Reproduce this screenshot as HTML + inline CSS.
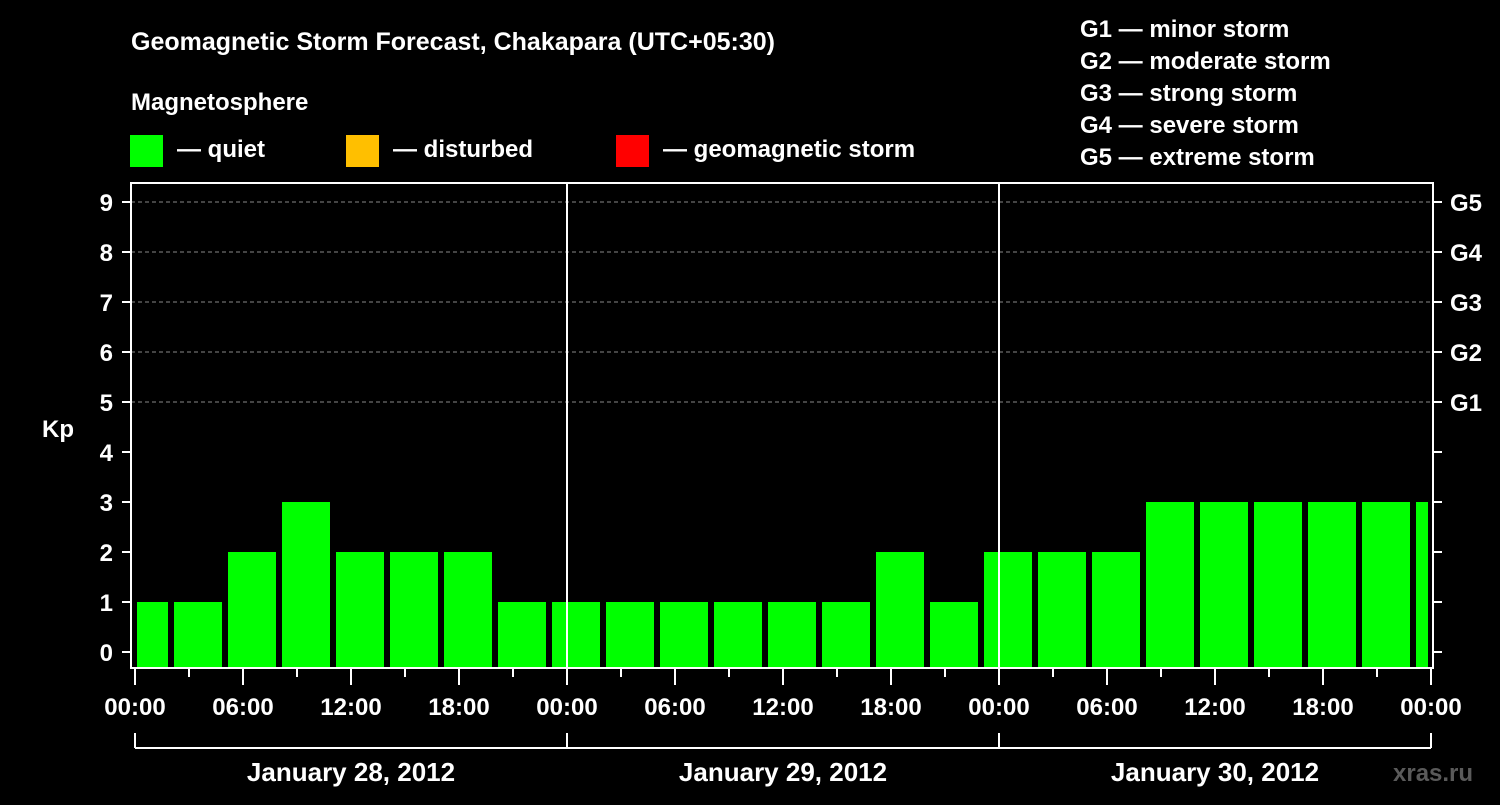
<!DOCTYPE html>
<html><head><meta charset="utf-8"><style>
body{margin:0;background:#000;}
svg text{font-family:"Liberation Sans",Arial,sans-serif;font-weight:bold;fill:#fff;}
</style></head><body>
<svg id="chart" width="1500" height="800" viewBox="0 0 1500 800" xmlns="http://www.w3.org/2000/svg">
<rect width="1500" height="800" fill="#000"/>
<text x="131" y="50" font-size="25">Geomagnetic Storm Forecast, Chakapara (UTC+05:30)</text>
<text x="131" y="110" font-size="24">Magnetosphere</text>
<g><rect x="130" y="135" width="33" height="32" fill="#00ff00"/><text x="177" y="157" font-size="24">— quiet</text></g>
<g><rect x="346" y="135" width="33" height="32" fill="#ffbf00"/><text x="393" y="157" font-size="24">— disturbed</text></g>
<g><rect x="616" y="135" width="33" height="32" fill="#ff0000"/><text x="663" y="157" font-size="24">— geomagnetic storm</text></g>
<g font-size="24">
<text x="1080" y="37">G1 — minor storm</text>
<text x="1080" y="69">G2 — moderate storm</text>
<text x="1080" y="101">G3 — strong storm</text>
<text x="1080" y="133">G4 — severe storm</text>
<text x="1080" y="165">G5 — extreme storm</text>
</g>
<text x="42" y="437" font-size="24">Kp</text>
<text x="1393" y="781" font-size="24" fill="#555" style="fill:#5a5a5a">xras.ru</text>
<g id="grid"></g><g id="bars"></g><g id="axes"></g>
</svg>
<script>
const kpValues=[1,1,2,3,2,2,2,1, 1,1,1,1,1,1,2,1, 2,2,2,3,3,3,3,3, 3];
const yTicks=[0,1,2,3,4,5,6,7,8,9];
const gLabels=["G1","G2","G3","G4","G5"];
const gLevels=[5,6,7,8,9];
const xTickLabels=["00:00","06:00","12:00","18:00","00:00","06:00","12:00","18:00","00:00","06:00","12:00","18:00","00:00"];
const dayLabels=["January 28, 2012","January 29, 2012","January 30, 2012"];

const NS="http://www.w3.org/2000/svg";
const X0=135,PXH=18,Y0=652,PXK=50,L=131,R=1433,T=183,B=668;
const x=h=>X0+h*PXH, y=k=>Y0-k*PXK;
function mk(tag,attrs,parent){const e=document.createElementNS(NS,tag);for(const k in attrs)e.setAttribute(k,attrs[k]);document.getElementById(parent).appendChild(e);return e;}
// grid
gLevels.forEach((g,i)=>{
 const l=mk('line',{x1:L,x2:R,y1:y(g),y2:y(g),stroke:'#888','stroke-dasharray':'4,3','stroke-width':1},'grid');
 
 
});
// bars
const clip=mk('clipPath',{id:'pc'},'bars');
const cr=document.createElementNS(NS,'rect');cr.setAttribute('x',137);cr.setAttribute('y',T);cr.setAttribute('width',1428-137);cr.setAttribute('height',B-T);clip.appendChild(cr);
kpValues.forEach((v,i)=>{
 const c=x(0.5+3*i);
 const col=v>=5?'#ff0000':v>=4?'#ffbf00':'#00ff00';
 const b=mk('rect',{x:c-24,y:y(v),width:48,height:B-y(v),fill:col,'clip-path':'url(#pc)'},'bars');
 
 
});
// axes frame
const f=mk('rect',{x:L,y:T,width:R-L,height:B-T,fill:'none',stroke:'#fff','stroke-width':2},'axes');


[1,2].forEach(d=>{const l=mk('line',{x1:x(24*d),x2:x(24*d),y1:T,y2:B,stroke:'#fff','stroke-width':2},'axes');
 
 });
yTicks.forEach(k=>{
 mk('line',{x1:122,x2:L,y1:y(k),y2:y(k),stroke:'#fff','stroke-width':2},'axes');
 mk('line',{x1:R,x2:1442,y1:y(k),y2:y(k),stroke:'#fff','stroke-width':2},'axes');
 const t=mk('text',{x:113,y:y(k)+9,'font-size':24,'text-anchor':'end'},'axes');t.textContent=k;
 
 
});
gLevels.forEach((g,i)=>{const t=mk('text',{x:1450,y:y(g)+9,'font-size':24},'axes');t.textContent=gLabels[i];
 
 });
for(let h=0;h<=72;h+=3){
 const major=h%6===0;
 mk('line',{x1:x(h),x2:x(h),y1:B,y2:major?685:677,stroke:'#fff','stroke-width':2},'axes');
}
xTickLabels.forEach((s,i)=>{const t=mk('text',{x:x(6*i),y:715,'font-size':24,'text-anchor':'middle'},'axes');t.textContent=s;
 
 });
mk('line',{x1:x(0),x2:x(72),y1:748,y2:748,stroke:'#fff','stroke-width':2},'axes');
for(let d=0;d<=3;d++)mk('line',{x1:x(24*d),x2:x(24*d),y1:733,y2:748,stroke:'#fff','stroke-width':2},'axes');
dayLabels.forEach((s,i)=>{const t=mk('text',{x:x(24*i+12),y:781,'font-size':26,'text-anchor':'middle'},'axes');t.textContent=s;
 
 });
</script>
</body></html>
